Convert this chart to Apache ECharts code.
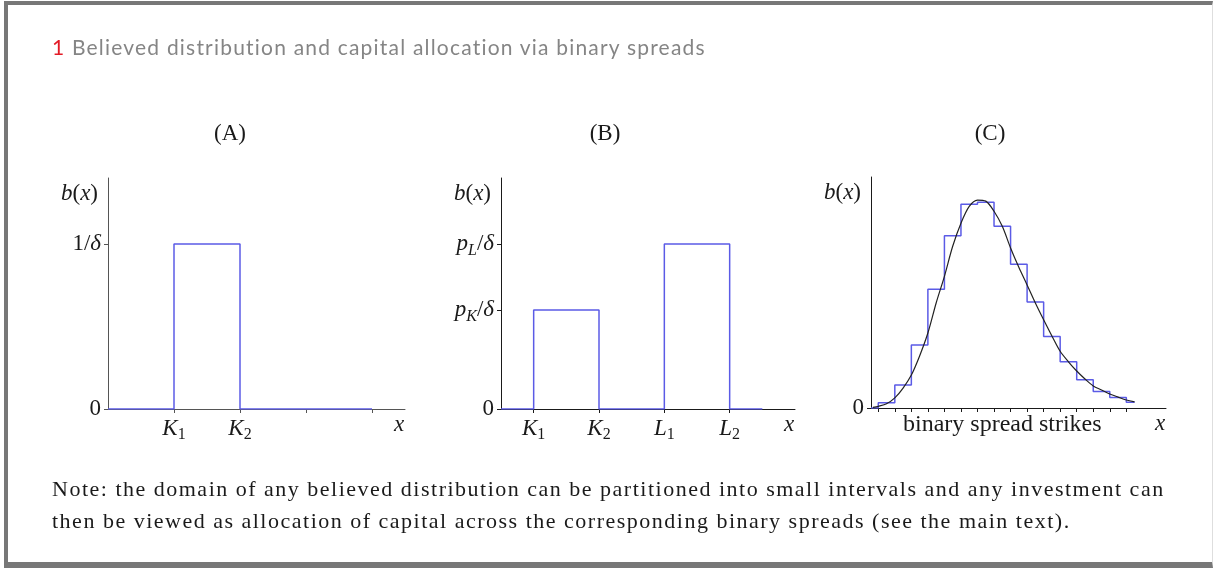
<!DOCTYPE html>
<html>
<head>
<meta charset="utf-8">
<script src="https://cdn.jsdelivr.net/npm/echarts@6/dist/echarts.min.js"></script>
<style>
  html, body { margin: 0; padding: 0; background: #fff; }
  #page { position: relative; width: 1213px; height: 568px; overflow: hidden; }
  #chart { position: absolute; left: 0; top: 0; width: 1213px; height: 568px; }
  .frame {
    position: absolute; left: 4px; top: 1px; right: 0; bottom: 0; box-sizing: border-box;
    border-left: 4px solid #777; border-top: 4px solid #777; border-bottom: 6px solid #777;
    border-right: 1px solid #dedede; pointer-events: none;
  }
  .fig-title { position: absolute; left: 52px; top: 34px; font: 21px Lato; letter-spacing: 1.2px; color: #858585; white-space: nowrap; }
  .fig-title .num { color: #e31b26; }
  .note {
    position: absolute; left: 52px; top: 473px; font: 22px 'Liberation Serif'; line-height: 32px;
    color: #1a1a1a; letter-spacing: 1.5px; white-space: nowrap;
  }
</style>
</head>
<body>
<div id="page">
  <div id="chart"></div>
  <div class="frame"></div>
  <div class="fig-title"><span class="num">1</span> Believed distribution and capital allocation via binary spreads</div>
  <div class="note">
    <div>Note: the domain of any believed distribution can be partitioned into small intervals and any investment can</div>
    <div>then be viewed as allocation of capital across the corresponding binary spreads (see the main text).</div>
  </div>
</div>
<script>
// ── (A) 单个 binary spread ──
const aX = [0, 1, 2, 4];
const aY = [0, 1, 0, 0];
const aTicks = [1, 2, 3, 4];
const aTickLabels = { 1: '{i|K}{s|1}', 2: '{i|K}{s|2}' };
const aYLabels = { 0: '{n|0}', 1: '{n|1/}{i|δ}' };

// ── (B) 两个 binary spread ──
const bX = [0, 0.5, 1.5, 2.5, 3.5, 4];
const bY = [0, 0.6, 0, 1, 0, 0];
const bTicks = [0.5, 1.5, 2.5, 3.5];
const bTickLabels = { 0.5: '{i|K}{s|1}', 1.5: '{i|K}{s|2}', 2.5: '{i|L}{s|1}', 3.5: '{i|L}{s|2}' };
const bYLabels = { 0: '{n|0}', 0.6: '{i|p}{si|K}{n|/}{i|δ}', 1: '{i|p}{si|L}{n|/}{i|δ}' };

// ── (C) 分布 + 阶梯近似 ──
const cStepX = [0.56, 1, 2, 3, 4, 5, 6, 7, 8, 9, 10, 11, 12, 13, 14, 15, 16, 16.5];
const cStepY = [0, 0.025, 0.11, 0.3, 0.565, 0.82, 0.97, 0.98, 0.865, 0.685, 0.505, 0.34, 0.22, 0.135, 0.078, 0.05, 0.027, 0.027];
const cCurveX = [0.68, 1, 1.5, 2, 2.5, 3, 3.5, 4, 4.5, 5, 5.5, 6, 6.5, 7, 7.5, 8, 8.5, 9, 9.5, 10, 10.5, 11, 11.5, 12, 12.5, 13, 13.5, 14, 14.5, 15, 15.5, 16, 16.5];
const cCurveY = [0.003, 0.008, 0.02, 0.048, 0.095, 0.157, 0.248, 0.357, 0.5, 0.627, 0.77, 0.88, 0.96, 0.99, 0.985, 0.937, 0.865, 0.762, 0.67, 0.586, 0.5, 0.42, 0.343, 0.27, 0.22, 0.176, 0.138, 0.105, 0.086, 0.067, 0.052, 0.038, 0.029];
const cTicks = [1, 2, 3, 4, 5, 6, 7, 8, 9, 10, 11, 12, 13, 14, 15, 16];
const cMidLabel = 8.5;

const SERIF = "'Liberation Serif', 'DejaVu Serif', serif";
const INK = '#1a1a1a';
const BLUE = '#5b5be6';
const RICH = {
  i: { fontFamily: SERIF, fontStyle: 'italic', fontSize: 23, color: INK },
  n: { fontFamily: SERIF, fontSize: 23, color: INK },
  w: { fontFamily: SERIF, fontSize: 24, color: INK },
  s: { fontFamily: SERIF, fontSize: 16, color: INK, padding: [13, 0, 0, 0] },
  si: { fontFamily: SERIF, fontStyle: 'italic', fontSize: 16, color: INK, padding: [13, 0, 0, 0] },
};
const NAME_BX = '{i|b}{n|(}{i|x}{n|)}';

const zip = (xs, ys) => xs.map((x, k) => [x, ys[k]]);

const chart = echarts.init(document.getElementById('chart'));

function xAxisFor(gridIndex, max, ticks, labels, axisColor) {
  return {
    gridIndex,
    type: 'value',
    min: gridIndex === 2 ? 0.56 : 0,
    max,
    name: '{i|x}',
    nameLocation: 'end',
    nameGap: -6,
    nameTextStyle: { rich: RICH, align: 'center', verticalAlign: 'top', padding: [4, 0, 0, 0] },
    axisLine: { show: true, onZero: false, lineStyle: { color: axisColor, width: 1 } },
    axisTick: { show: true, customValues: ticks, length: 4, lineStyle: { color: axisColor } },
    axisLabel: {
      customValues: Object.keys(labels).map(Number),
      formatter: v => labels[v] || '',
      rich: RICH,
      margin: 5,
    },
    splitLine: { show: false },
  };
}

function yAxisFor(gridIndex, max, labels, axisColor) {
  return {
    gridIndex,
    type: 'value',
    min: 0,
    max,
    name: NAME_BX,
    nameLocation: 'end',
    nameGap: -16,
    nameTextStyle: { rich: RICH, align: 'right', verticalAlign: 'middle', padding: [0, 10, 0, 0] },
    axisLine: { show: true, onZero: false, lineStyle: { color: axisColor, width: 1 } },
    axisTick: { show: true, customValues: Object.keys(labels).map(Number), length: 4, lineStyle: { color: axisColor } },
    axisLabel: {
      customValues: Object.keys(labels).map(Number),
      formatter: v => labels[v] || '',
      rich: RICH,
      margin: 7,
    },
    splitLine: { show: false },
  };
}

chart.setOption({
  animation: false,
  grid: [
    { left: 108, top: 178, width: 297, height: 231 },
    { left: 501, top: 178, width: 294, height: 231 },
    { left: 871, top: 177, width: 295, height: 231 },
  ],
  xAxis: [
    xAxisFor(0, 4.5, aTicks, aTickLabels, '#555'),
    xAxisFor(1, 4.5, bTicks, bTickLabels, INK),
    xAxisFor(2, 18.4, cTicks, { [cMidLabel]: '{w|binary spread strikes}' }, INK),
  ],
  yAxis: [
    yAxisFor(0, 1.4, aYLabels, '#555'),
    yAxisFor(1, 1.4, bYLabels, INK),
    yAxisFor(2, 1.1, { 0: '{n|0}' }, INK),
  ],
  series: [
    {
      type: 'line', xAxisIndex: 0, yAxisIndex: 0, step: 'end', showSymbol: false,
      data: zip(aX, aY), lineStyle: { color: BLUE, width: 1.5 }, z: 3,
    },
    {
      type: 'line', xAxisIndex: 1, yAxisIndex: 1, step: 'end', showSymbol: false,
      data: zip(bX, bY), lineStyle: { color: BLUE, width: 1.5 }, z: 3,
    },
    {
      type: 'line', xAxisIndex: 2, yAxisIndex: 2, step: 'end', showSymbol: false,
      data: zip(cStepX, cStepY), lineStyle: { color: BLUE, width: 1.5 }, z: 3,
    },
    {
      type: 'line', xAxisIndex: 2, yAxisIndex: 2, smooth: 0.3, showSymbol: false,
      data: zip(cCurveX, cCurveY), lineStyle: { color: '#222', width: 1.2 }, z: 4,
    },
  ],
  graphic: [
    { type: 'text', x: 230, y: 134, style: { text: '(A)', align: 'center', verticalAlign: 'middle', font: `23px ${SERIF}`, fill: INK } },
    { type: 'text', x: 605, y: 134, style: { text: '(B)', align: 'center', verticalAlign: 'middle', font: `23px ${SERIF}`, fill: INK } },
    { type: 'text', x: 990, y: 134, style: { text: '(C)', align: 'center', verticalAlign: 'middle', font: `23px ${SERIF}`, fill: INK } },
  ],
});
</script>
</body>
</html>
